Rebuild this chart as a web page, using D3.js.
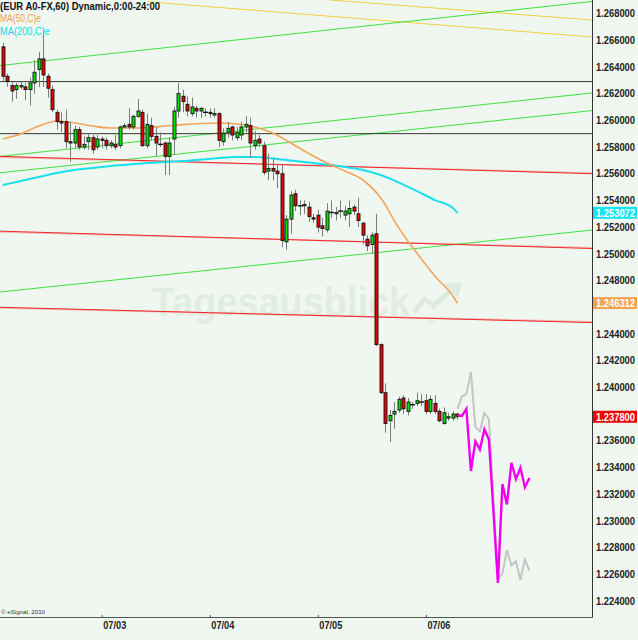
<!DOCTYPE html>
<html><head><meta charset="utf-8">
<script src="https://cdn.jsdelivr.net/npm/d3@7"></script>
<style>
html,body{margin:0;padding:0;background:#f0f7f0;}
svg{display:block;}
text{font-family:"Liberation Sans",Arial,sans-serif;}
</style></head><body>
<svg id="c" width="638" height="640"></svg>
<script>
// ---- data (hourly EUR/USD candles, 07/02 02:00 .. 07/06 07:00) ----
const candleOpen = [1.2655,1.2633,1.2626,1.2623,1.2625,1.2625,1.2623,1.2628,1.2638,1.2646,
1.2633,1.2623,1.2606,1.2599,1.2599,1.2584,1.2583,1.2593,1.2580,1.2584,
1.2587,1.2580,1.2586,1.2585,1.2581,1.2582,1.2581,1.2595,1.2597,1.2595,
1.2603,1.2606,1.2581,1.2596,1.2588,1.2582,1.2583,1.2573,1.2586,1.2607,
1.2618,1.2612,1.2605,1.2609,1.2607,1.2606,1.2606,1.2604,1.2605,1.2584,
1.2591,1.2595,1.2587,1.2589,1.2595,1.2596,1.2581,1.2586,1.2581,1.2562,
1.2564,1.2562,1.2560,1.2509,1.2526,1.2545,1.2536,1.2536,1.2535,1.2527,
1.2529,1.2521,1.2518,1.2531,1.2530,1.2532,1.2529,1.2530,1.2535,1.2530,
1.2523,1.2511,1.2507,1.2515,1.2432,1.2396,1.2375,1.2380,1.2383,1.2392,
1.2382,1.2387,1.2388,1.2389,1.2390,1.2382,1.2388,1.2382,1.2373,1.2377,
1.2377,1.2380];
const candleHigh = [1.2658,1.2635,1.2629,1.2628,1.2629,1.2628,1.2632,1.2645,1.2651,1.2668,
1.2635,1.2626,1.2608,1.2606,1.2608,1.2599,1.2596,1.2595,1.2588,1.2590,
1.2589,1.2589,1.2588,1.2587,1.2585,1.2589,1.2596,1.2598,1.2609,1.2604,
1.2616,1.2608,1.2605,1.2602,1.2595,1.2591,1.2584,1.2587,1.2610,1.2628,
1.2623,1.2618,1.2617,1.2611,1.2610,1.2609,1.2609,1.2609,1.2606,1.2594,
1.2599,1.2596,1.2595,1.2599,1.2603,1.2602,1.2592,1.2589,1.2584,1.2575,
1.2572,1.2567,1.2567,1.2529,1.2547,1.2548,1.2540,1.2540,1.2539,1.2530,
1.2533,1.2527,1.2538,1.2540,1.2535,1.2540,1.2536,1.2540,1.2537,1.2542,
1.2524,1.2514,1.2516,1.2530,1.2433,1.2403,1.2383,1.2389,1.2393,1.2394,
1.2392,1.2389,1.2396,1.2395,1.2395,1.2394,1.2394,1.2384,1.2385,1.2381,
1.2382,1.2381];
const candleLow = [1.2629,1.2625,1.2614,1.2616,1.2623,1.2615,1.2611,1.2620,1.2625,1.2625,
1.2617,1.2606,1.2593,1.2591,1.2579,1.2569,1.2579,1.2578,1.2578,1.2578,
1.2575,1.2578,1.2579,1.2578,1.2579,1.2578,1.2579,1.2594,1.2593,1.2593,
1.2602,1.2580,1.2579,1.2585,1.2573,1.2580,1.2559,1.2559,1.2574,1.2602,
1.2606,1.2603,1.2603,1.2602,1.2602,1.2603,1.2602,1.2602,1.2580,1.2581,
1.2587,1.2585,1.2585,1.2585,1.2591,1.2572,1.2578,1.2580,1.2559,1.2555,
1.2555,1.2549,1.2505,1.2503,1.2515,1.2532,1.2529,1.2530,1.2524,1.2523,
1.2516,1.2513,1.2516,1.2527,1.2525,1.2527,1.2525,1.2520,1.2529,1.2520,
1.2507,1.2502,1.2500,1.2431,1.2395,1.2366,1.2359,1.2369,1.2381,1.2380,
1.2379,1.2384,1.2386,1.2386,1.2380,1.2380,1.2380,1.2374,1.2372,1.2375,
1.2375,1.2376];
const candleClose = [1.2633,1.2629,1.2622,1.2626,1.2626,1.2623,1.2628,1.2636,1.2646,1.2634,
1.2624,1.2608,1.2599,1.2598,1.2584,1.2583,1.2593,1.2580,1.2582,1.2587,
1.2578,1.2586,1.2585,1.2581,1.2583,1.2580,1.2595,1.2596,1.2595,1.2603,
1.2607,1.2581,1.2597,1.2588,1.2583,1.2582,1.2573,1.2583,1.2607,1.2620,
1.2614,1.2607,1.2610,1.2607,1.2609,1.2606,1.2605,1.2605,1.2585,1.2590,
1.2594,1.2589,1.2591,1.2595,1.2597,1.2583,1.2585,1.2583,1.2561,1.2564,
1.2562,1.2560,1.2510,1.2526,1.2544,1.2536,1.2536,1.2537,1.2528,1.2526,
1.2520,1.2519,1.2532,1.2531,1.2531,1.2532,1.2532,1.2534,1.2532,1.2525,
1.2514,1.2506,1.2514,1.2432,1.2396,1.2373,1.2379,1.2382,1.2391,1.2384,
1.2389,1.2387,1.2390,1.2389,1.2382,1.2391,1.2382,1.2375,1.2381,1.2378,
1.2380,1.2378];

// moving averages, sampled at candle indices
const maIdx  = [0,4,8,12,16,20,24,28,32,36,40,44,48,52,56,60,64,68,72,76,80,84,88,92,96,100,101];
const ma50   = [1.25860,1.25897,1.25957,1.25995,1.25980,1.25957,1.25942,1.25942,1.25946,1.25957,1.25968,1.25976,1.25980,1.25972,1.25950,1.25905,1.25830,1.25751,1.25680,1.25620,1.25553,1.25418,1.25193,1.25006,1.24834,1.24684,1.24631];
const ma200  = [1.25515,1.25545,1.25575,1.25605,1.25628,1.25643,1.25658,1.25669,1.25680,1.25688,1.25695,1.25706,1.25718,1.25725,1.25725,1.25714,1.25699,1.25684,1.25669,1.25650,1.25628,1.25590,1.25534,1.25470,1.25403,1.25343,1.25307];

// projected paths after the last candle
const fcIdx     = [101,102,103,104,105,106,107,108,110,111,112,113,114,115,116,117];
const fcMagenta = [1.2379,1.23786,1.23839,1.23374,1.23595,1.23535,1.23686,1.2361,1.22536,1.23275,1.23123,1.23435,1.23313,1.23398,1.23252,1.23321];
const fcGrey    = [1.23839,1.23931,1.23953,1.24114,1.23702,1.23671,1.23808,1.23763,1.22566,1.22605,1.2278,1.22667,1.22697,1.22559,1.22712,1.22628];

// drawn trend lines: [startIndex, startPrice, endIndex, endPrice]
const blackLines  = [[-0.6,1.2629,130.9,1.2629],[-0.6,1.2590,130.9,1.2590]];
const redLines    = [[-0.6,1.2573,130.9,1.2560],[-0.6,1.2517,130.9,1.2504],[-0.6,1.2460,130.9,1.24485]];
const greenLines  = [[-0.6,1.2641,130.9,1.2689],[-0.6,1.2573,130.9,1.26205],[-0.6,1.25607,130.9,1.26073],[-0.6,1.24714,130.9,1.25178]];
const yellowLines = [[32,1.26888,130.9,1.26624],[72.7,1.26901,130.9,1.26751]];

const dayTicks  = [22,46,70,94];
const dayLabels = ["07/03","07/04","07/05","07/06"];
const priceTicks = d3.range(0,23).map(i => +(1.224 + i*0.002).toFixed(3));
const lastMa50 = 1.246312, lastMa200 = 1.253072, lastPrice = 1.237800;

// ---- drawing ----
const W = 592, H = 617;
const svg = d3.select("#c");
svg.append("rect").attr("width",638).attr("height",640).attr("fill","#f0f7f0");
const xS = d3.scaleLinear().domain([-0.6,130.9]).range([0,W]);
const yS = d3.scaleLinear().domain([1.224,1.268]).range([601,13.5]);

svg.append("defs").append("clipPath").attr("id","clip")
  .append("rect").attr("x",0).attr("y",0).attr("width",W).attr("height",H);
const plot = svg.append("g").attr("clip-path","url(#clip)");

// watermark
const wm = plot.append("g");
wm.append("text").attr("x",152).attr("y",316).text("Tagesausblick")
  .attr("font-size",40).attr("font-weight","bold").attr("fill","#e1ede1")
  .attr("textLength",258).attr("lengthAdjust","spacingAndGlyphs");
wm.append("text").attr("x",424).attr("y",324).text(".de")
  .attr("font-size",8).attr("font-weight","bold").attr("fill","#e1ede1");
wm.append("polyline").attr("points","414,312 425,299 433,306 452,290")
  .attr("fill","none").attr("stroke","#deebde").attr("stroke-width",5);
wm.append("polygon").attr("points","444,284 462,282 458,298")
  .attr("fill","#deebde");

const seg = (arr, color, w) => plot.selectAll(null).data(arr).join("line")
  .attr("x1",d=>xS(d[0])).attr("y1",d=>yS(d[1])).attr("x2",d=>xS(d[2])).attr("y2",d=>yS(d[3]))
  .attr("stroke",color).attr("stroke-width",w);

// faint pink companions of the red lines
plot.selectAll(null).data(redLines).join("line")
  .attr("x1",d=>xS(d[0])).attr("y1",d=>yS(d[1])+0.8).attr("x2",d=>xS(d[2])).attr("y2",d=>yS(d[3])-0.8)
  .attr("stroke","#f5b8b8").attr("stroke-width",1.6);
seg(yellowLines,"#f0d040",1);
seg(greenLines,"#3ee03e",1);
seg(redLines,"#ec2a2a",1);
seg(blackLines,"#333",1);

// moving averages
const maLine = arr => d3.line().x((d,i)=>xS(maIdx[i])).y(d=>yS(d)).curve(d3.curveMonotoneX)(arr);
plot.append("path").attr("d",maLine(ma200)).attr("fill","none").attr("stroke","#18e0ee").attr("stroke-width",2);
plot.append("path").attr("d",maLine(ma50)).attr("fill","none").attr("stroke","#f2a55a").attr("stroke-width",1.6);

// candles
const idx = d3.range(candleOpen.length);
const cg = plot.append("g");
cg.selectAll("line.w").data(idx).join("line").attr("class","w")
  .attr("x1",i=>Math.round(xS(i))+0.5).attr("x2",i=>Math.round(xS(i))+0.5)
  .attr("y1",i=>yS(candleHigh[i])).attr("y2",i=>yS(candleLow[i]))
  .attr("stroke","#7c7c7c").attr("stroke-width",1);
const bodies = idx.filter(i => Math.abs(yS(candleOpen[i])-yS(candleClose[i])) >= 1.2);
const dojis  = idx.filter(i => Math.abs(yS(candleOpen[i])-yS(candleClose[i])) < 1.2);
cg.selectAll("rect.b").data(bodies).join("rect").attr("class","b")
  .attr("x",i=>Math.round(xS(i))-1)
  .attr("width",3)
  .attr("y",i=>yS(Math.max(candleOpen[i],candleClose[i])))
  .attr("height",i=>Math.abs(yS(candleOpen[i])-yS(candleClose[i])))
  .attr("fill",i=>candleClose[i]>=candleOpen[i] ? "#00e400" : "#ee0000")
  .attr("stroke","#111").attr("stroke-width",0.9);
cg.selectAll("line.d").data(dojis).join("line").attr("class","d")
  .attr("x1",i=>Math.round(xS(i))-2).attr("x2",i=>Math.round(xS(i))+3)
  .attr("y1",i=>yS((candleOpen[i]+candleClose[i])/2)).attr("y2",i=>yS((candleOpen[i]+candleClose[i])/2))
  .attr("stroke","#111").attr("stroke-width",1.4);

// projections
const fcLine = arr => d3.line().x((d,i)=>xS(fcIdx[i])).y(d=>yS(d))(arr);
plot.append("path").attr("d",fcLine(fcGrey)).attr("fill","none").attr("stroke","#c4c4c4").attr("stroke-width",2);
plot.append("path").attr("d",fcLine(fcMagenta)).attr("fill","none").attr("stroke","#f000f0").attr("stroke-width",2.4);

// axes frame
svg.append("line").attr("x1",W+0.5).attr("x2",W+0.5).attr("y1",0).attr("y2",H+0.5).attr("stroke","#333");
svg.append("line").attr("x1",0).attr("x2",W+0.5).attr("y1",H+0.5).attr("y2",H+0.5).attr("stroke","#555").attr("stroke-width",1);

// value boxes on the price axis (they cover the tick labels they sit on)
const boxes = [[lastMa200,"#16e6f0"],[lastMa50,"#f2a455"],[lastPrice,"#f00000"]];
const covered = t => boxes.some(b => Math.abs(yS(b[0]) - yS(t)) < 9);

// right price axis
const ya = svg.append("g").attr("transform",`translate(${W},0)`)
  .call(d3.axisRight(yS).tickValues(priceTicks.filter(t => !covered(t)))
    .tickFormat(d3.format(".6f")).tickSize(0).tickPadding(4));
ya.select(".domain").remove();
ya.selectAll("text").attr("font-family","'Liberation Sans',Arial,sans-serif").attr("font-size",10)
  .attr("font-weight","bold").attr("fill","#222").attr("textLength",39).attr("lengthAdjust","spacingAndGlyphs");

// bottom date axis
const xa = svg.append("g").attr("transform",`translate(0,${H})`)
  .call(d3.axisBottom(xS).tickValues(dayTicks).tickFormat((d,i)=>dayLabels[i]).tickSize(3));
xa.select(".domain").remove();
xa.selectAll(".tick line").attr("stroke","#555").attr("transform","translate(0,-2)");
xa.selectAll("text").attr("text-anchor","start").attr("x",1).attr("y",12).attr("dy",0)
  .attr("font-family","'Liberation Sans',Arial,sans-serif").attr("font-size",11).attr("font-weight","bold")
  .attr("fill","#222").attr("textLength",23).attr("lengthAdjust","spacingAndGlyphs");

const bx = svg.selectAll("g.box").data(boxes).join("g").attr("class","box")
  .attr("transform",d=>`translate(${W+1},${yS(d[0])})`);
bx.append("rect").attr("x",0).attr("y",-6).attr("width",44).attr("height",12).attr("fill",d=>d[1]);
bx.append("text").attr("x",3).attr("y",4).text(d=>d3.format(".6f")(d[0]))
  .attr("font-size",10).attr("font-weight","bold").attr("fill","#fff")
  .attr("textLength",39).attr("lengthAdjust","spacingAndGlyphs");

// legend
const lg = svg.append("g");
lg.append("text").attr("x",0).attr("y",10).text("(EUR A0-FX,60) Dynamic,0:00-24:00")
  .attr("font-size",11).attr("font-weight","bold").attr("fill","#111")
  .attr("textLength",160).attr("lengthAdjust","spacingAndGlyphs");
lg.append("text").attr("x",0).attr("y",21.5).text("MA(50,C)e")
  .attr("font-size",11).attr("fill","#f2a055").attr("textLength",41).attr("lengthAdjust","spacingAndGlyphs");
lg.append("text").attr("x",0).attr("y",35).text("MA(200,C)e")
  .attr("font-size",11).attr("fill","#10d8e8").attr("textLength",50).attr("lengthAdjust","spacingAndGlyphs");

svg.append("text").attr("x",1).attr("y",614).text("© eSignal, 2010")
  .attr("font-size",6).attr("fill","#333").attr("textLength",44).attr("lengthAdjust","spacingAndGlyphs");
</script>
</body></html>
